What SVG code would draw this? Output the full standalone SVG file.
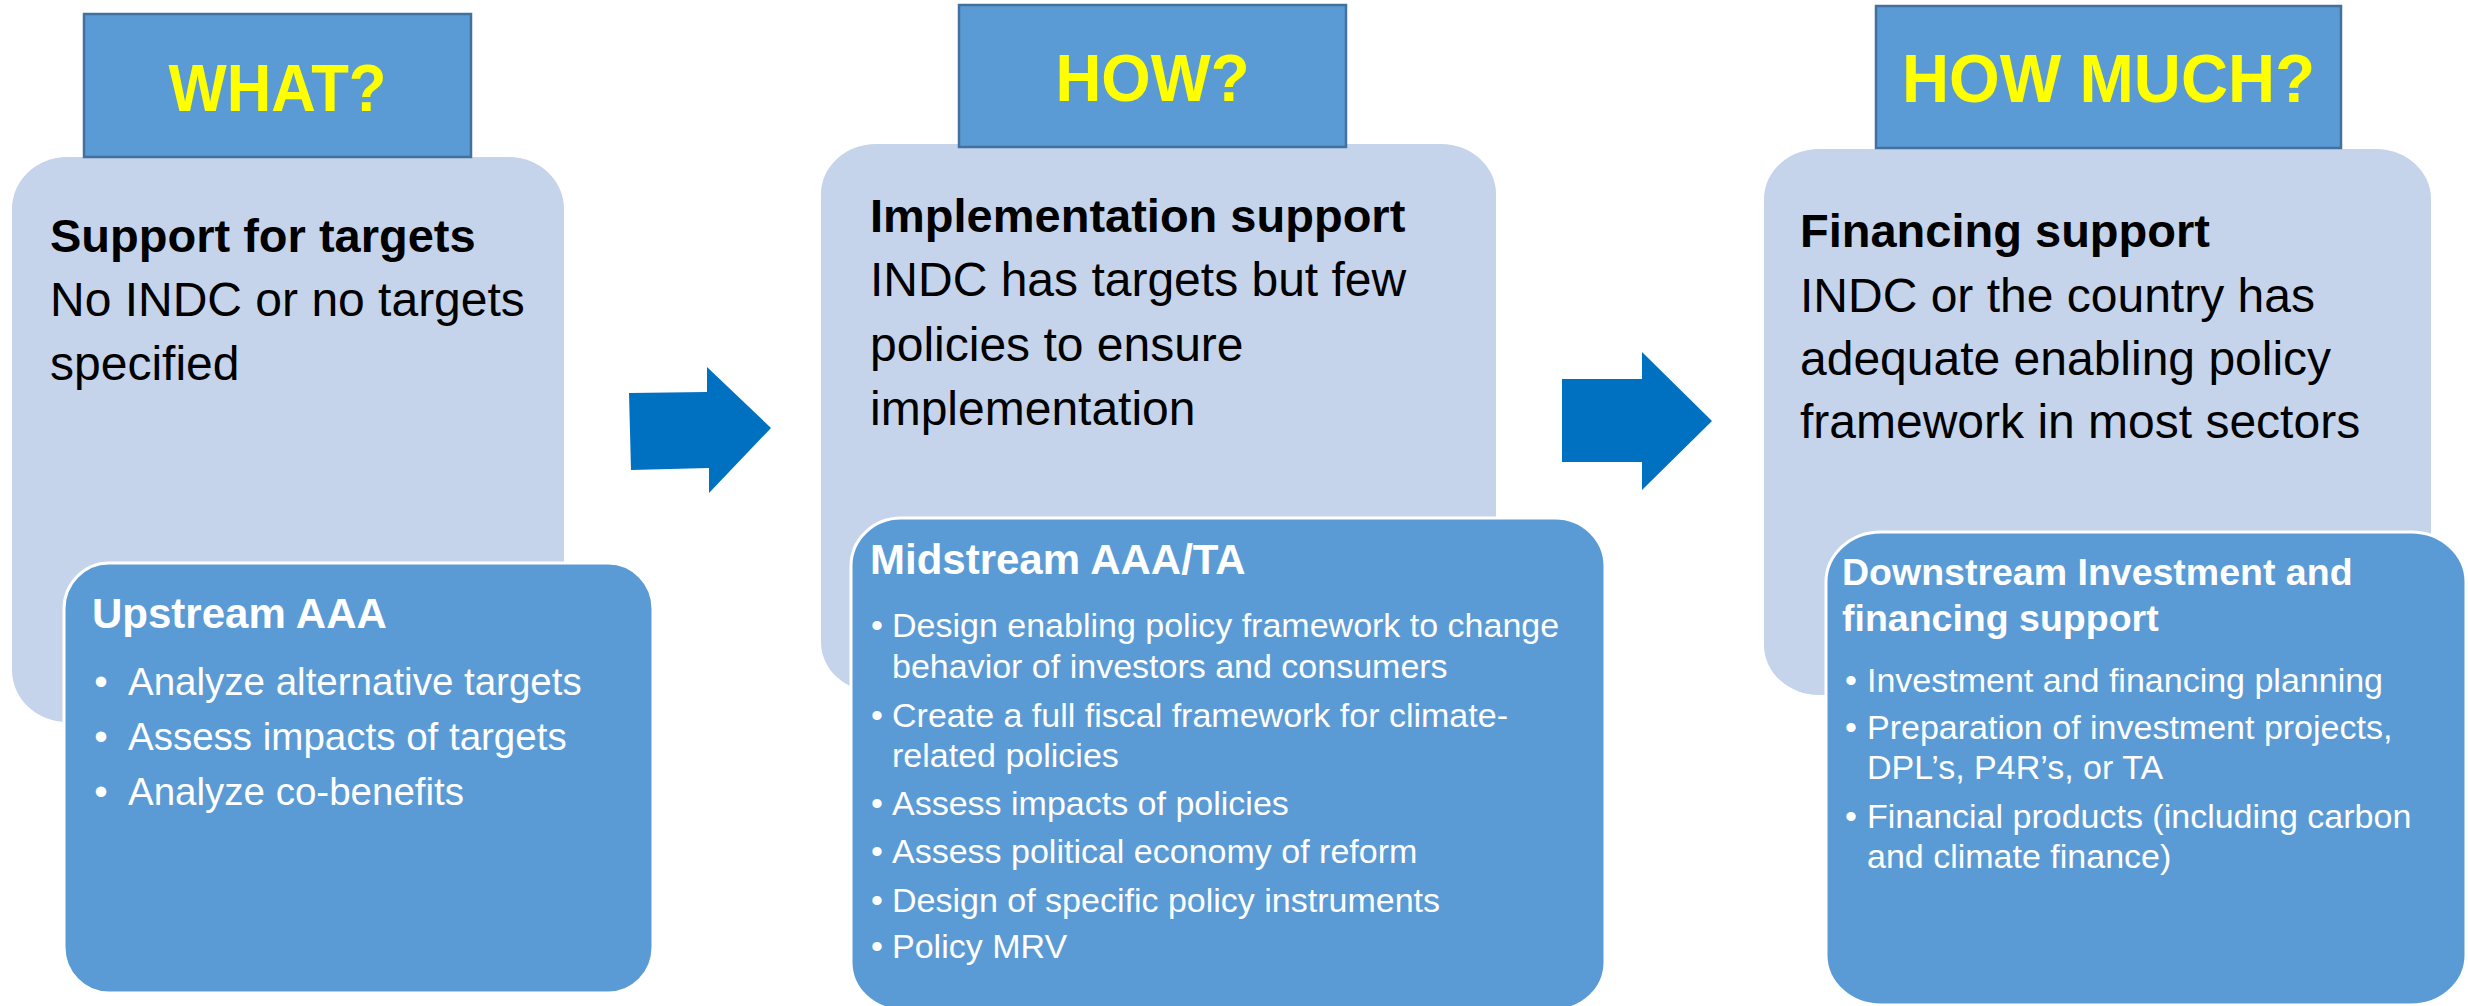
<svg xmlns="http://www.w3.org/2000/svg" width="2468" height="1006" viewBox="0 0 2468 1006">
<style>
.bg{fill:#FFFFFF}
.light{fill:#C5D4EA}
.dark{fill:#5B9BD5;stroke:#FFFFFF;stroke-width:3}
.title{fill:#5B9BD5;stroke:#41719C;stroke-width:2.5}
.ttl{font-family:"Liberation Sans",Arial,sans-serif;font-weight:bold;fill:#FFFF00;text-anchor:middle}
.hb{font-family:"Liberation Sans",Arial,sans-serif;font-weight:bold;font-size:47px;fill:#000000}
.hr{font-family:"Liberation Sans",Arial,sans-serif;font-size:48px;fill:#000000}
.wb{font-family:"Liberation Sans",Arial,sans-serif;font-weight:bold;fill:#FFFFFF}
.wr{font-family:"Liberation Sans",Arial,sans-serif;fill:#FFFFFF}
.bul{font-family:"Liberation Sans",Arial,sans-serif;fill:#FFFFFF;text-anchor:middle}
.arrow{fill:#0070C0}
</style>
<rect class="bg" x="0" y="0" width="2468" height="1006"/>

<g id="what">
  <rect class="light" x="12" y="157" width="552" height="565" rx="55" ry="52"/>
  <rect class="title" x="84" y="14" width="387" height="143"/>
  <text class="ttl" x="277.5" y="111" font-size="67" textLength="218" lengthAdjust="spacingAndGlyphs">WHAT?</text>
  <text class="hb" x="50" y="252">Support for targets</text>
  <text class="hr" x="50" y="316">No INDC or no targets</text>
  <text class="hr" x="50" y="380">specified</text>
</g>

<g id="upstream">
  <rect class="dark" x="64" y="563" width="589" height="430" rx="45" ry="46"/>
  <text class="wb" x="92" y="628" font-size="42">Upstream AAA</text>
  <g font-size="38.5">
    <text class="bul" x="101" y="695">•</text>
    <text class="wr" x="128" y="695">Analyze alternative targets</text>
    <text class="bul" x="101" y="750">•</text>
    <text class="wr" x="128" y="750">Assess impacts of targets</text>
    <text class="bul" x="101" y="805">•</text>
    <text class="wr" x="128" y="805">Analyze co-benefits</text>
  </g>
</g>

<g id="how">
  <rect class="light" x="821" y="144" width="675" height="548" rx="55" ry="50"/>
  <rect class="title" x="959" y="5" width="387" height="142"/>
  <text class="ttl" x="1152.5" y="101" font-size="67" textLength="194" lengthAdjust="spacingAndGlyphs">HOW?</text>
  <text class="hb" x="870" y="232">Implementation support</text>
  <text class="hr" x="870" y="296">INDC has targets but few</text>
  <text class="hr" x="870" y="361">policies to ensure</text>
  <text class="hr" x="870" y="425">implementation</text>
</g>

<g id="midstream">
  <rect class="dark" x="851" y="518" width="754" height="492" rx="50" ry="48"/>
  <text class="wb" x="870" y="574" font-size="42">Midstream AAA/TA</text>
  <g font-size="34">
    <text class="bul" x="877" y="637">•</text>
    <text class="wr" x="892" y="637">Design enabling policy framework to change</text>
    <text class="wr" x="892" y="678">behavior of investors and consumers</text>
    <text class="bul" x="877" y="727">•</text>
    <text class="wr" x="892" y="727">Create a full fiscal framework for climate-</text>
    <text class="wr" x="892" y="767">related policies</text>
    <text class="bul" x="877" y="815">•</text>
    <text class="wr" x="892" y="815">Assess impacts of policies</text>
    <text class="bul" x="877" y="863">•</text>
    <text class="wr" x="892" y="863">Assess political economy of reform</text>
    <text class="bul" x="877" y="912">•</text>
    <text class="wr" x="892" y="912">Design of specific policy instruments</text>
    <text class="bul" x="877" y="958">•</text>
    <text class="wr" x="892" y="958">Policy MRV</text>
  </g>
</g>

<g id="how-much">
  <rect class="light" x="1764" y="149" width="667" height="546" rx="55" ry="50"/>
  <rect class="title" x="1876" y="6" width="465" height="142"/>
  <text class="ttl" x="2108.5" y="102" font-size="68" textLength="413" lengthAdjust="spacingAndGlyphs">HOW MUCH?</text>
  <text class="hb" x="1800" y="247">Financing support</text>
  <text class="hr" x="1800" y="312">INDC or the country has</text>
  <text class="hr" x="1800" y="375">adequate enabling policy</text>
  <text class="hr" x="1800" y="438">framework in most sectors</text>
</g>

<g id="downstream">
  <rect class="dark" x="1826" y="532" width="640" height="473" rx="55" ry="50"/>
  <text class="wb" x="1842" y="585" font-size="37.5">Downstream Investment and</text>
  <text class="wb" x="1842" y="631" font-size="37.5">financing support</text>
  <g font-size="34">
    <text class="bul" x="1851" y="692">•</text>
    <text class="wr" x="1867" y="692">Investment and financing planning</text>
    <text class="bul" x="1851" y="739">•</text>
    <text class="wr" x="1867" y="739">Preparation of investment projects,</text>
    <text class="wr" x="1867" y="779">DPL’s, P4R’s, or TA</text>
    <text class="bul" x="1851" y="828">•</text>
    <text class="wr" x="1867" y="828">Financial products (including carbon</text>
    <text class="wr" x="1867" y="868">and climate finance)</text>
  </g>
</g>

<g id="connectors">
  <polygon class="arrow" points="629,393 707,392 707,367 771,428 709,493 709,468 631,470"/>
  <polygon class="arrow" points="1562,379 1642,379 1642,352 1712,421 1642,490 1642,462 1562,462"/>
</g>
</svg>
